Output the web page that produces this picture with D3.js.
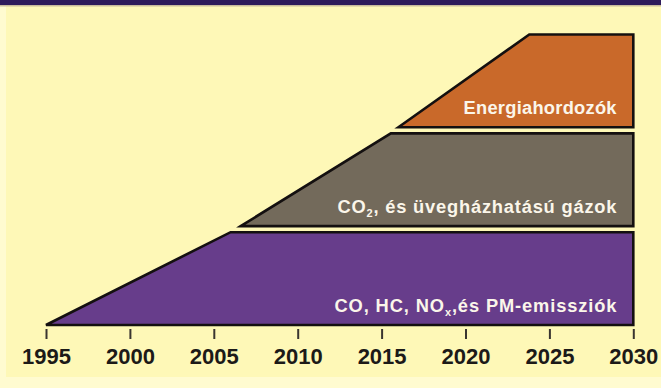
<!DOCTYPE html>
<html>
<head>
<meta charset="utf-8">
<script src="https://cdn.jsdelivr.net/npm/d3@7"></script>
<style>
  html, body { margin: 0; padding: 0; background: #fffbd0; }
  svg { display: block; }
</style>
</head>
<body>
<svg id="chart" width="661" height="388"></svg>
<script>
// ---- data ----
const categories = ["CO, HC, NOx, és PM-emissziók", "CO2, és üvegházhatású gázok", "Energiahordozók"];
// label parts: [text, isSubscript]
const labelParts = [
  [["CO, HC, NO", false], ["x", true], [",és PM-emissziók", false]],
  [["CO", false], ["2", true], [", és üvegházhatású gázok", false]],
  [["Energiahordozók", false]]
];
const startYears = [1995, 2006.6, 2016.0];   // where the ramp begins (bottom-left)
const fullYears  = [2006.0, 2015.55, 2023.8]; // where the band reaches full height
const endYear = 2030;
const tickYears = [1995, 2000, 2005, 2010, 2015, 2020, 2025, 2030];

const colors = ["#673d8b", "#736a5b", "#c9692a"];
const labelWidths = [282, 279, 153];

// ---- drawing ----
const svg = d3.select("#chart");
const W = 661, H = 388;

// background
svg.append("rect").attr("x", 0).attr("y", 0).attr("width", W).attr("height", H).attr("fill", "#fffbd0");
svg.append("rect").attr("x", 6).attr("y", 6).attr("width", W - 6).attr("height", 371).attr("fill", "#fef8b7");
svg.append("rect").attr("x", 0).attr("y", 0).attr("width", W).attr("height", 5).attr("fill", "#2e1b5b");
svg.append("rect").attr("x", 0).attr("y", 5).attr("width", W).attr("height", 1.5).attr("fill", "#c9bc9c");

const x = d3.scaleLinear().domain([1995, 2030]).range([46, 633.3]);
const y = d3.scaleBand().domain(categories).range([325, 34.5]).paddingInner(0.0612).paddingOuter(0);

categories.forEach((c, i) => {
  const top = y(c), bot = top + y.bandwidth();
  const pts = [
    [x(startYears[i]), bot],
    [x(fullYears[i]), top],
    [x(endYear), top],
    [x(endYear), bot]
  ];
  svg.append("path")
    .attr("d", d3.line()(pts) + "Z")
    .attr("fill", colors[i])
    .attr("stroke", "#141010")
    .attr("stroke-width", 2.6)
    .attr("stroke-linejoin", "miter");

  const t = svg.append("text")
    .attr("x", 616.5)
    .attr("y", bot - 13.3)
    .attr("text-anchor", "end")
    .attr("fill", "#fbf6ea")
    .attr("font-family", "Liberation Sans, Arial, sans-serif")
    .attr("font-weight", "bold")
    .attr("font-size", "18.3px")
    .attr("textLength", labelWidths[i])
    .attr("lengthAdjust", "spacing");
  labelParts[i].forEach(([s, sub]) => {
    const ts = t.append("tspan").text(s);
    if (sub) {
      ts.attr("font-size", "11px").attr("dy", 4);
    } else {
      ts.attr("dy", 0);
    }
  });
  // reset baseline after subscripts
  t.selectAll("tspan").each(function(d, j, nodes) {
    const el = d3.select(this);
    const parts = labelParts[i];
    if (j > 0 && parts[j - 1][1] && !parts[j][1]) el.attr("dy", -4);
  });
});

// axis
const axis = d3.axisBottom(x)
  .tickValues(tickYears)
  .tickFormat(d3.format("d"))
  .tickSize(10)
  .tickPadding(9.5);
const g = svg.append("g").attr("transform", "translate(0,329)").call(axis);
g.select(".domain").remove();
g.selectAll(".tick line").attr("stroke", "#3a3530").attr("stroke-width", 2);
g.selectAll(".tick text")
  .attr("fill", "#1c1a18")
  .attr("font-family", "Liberation Sans, Arial, sans-serif")
  .attr("font-weight", "bold")
  .attr("font-size", "22px");
</script>
</body>
</html>
